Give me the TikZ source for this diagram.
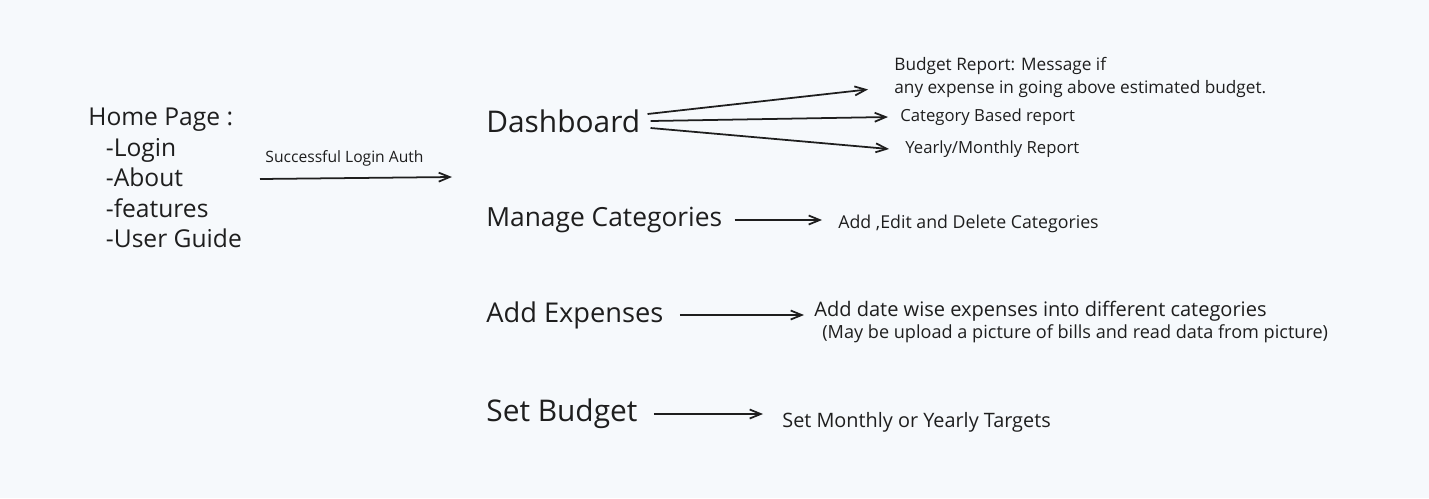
\documentclass[tikz,border=0pt]{standalone}
\usepackage{fontspec}
\setmainfont{Open Sans}
\usetikzlibrary{arrows.meta}

\definecolor{ink}{RGB}{30,30,30}
\definecolor{paper}{RGB}{246,249,252}

\begin{document}
\begin{tikzpicture}[
    x=0.02cm, y=-0.02cm,
    page/.style={anchor=west, inner sep=0pt, text=ink, font=\fontsize{15.5}{19}\selectfont},
    note/.style={anchor=west, inner sep=0pt, text=ink, font=\fontsize{11}{13}\selectfont},
    small/.style={anchor=west, inner sep=0pt, text=ink, font=\fontsize{9.5}{11}\selectfont},
    arrow/.style={-{Straight Barb[length=2.2mm, width=1.8mm]}, line width=1pt, draw=ink}
]

% Background
\fill[paper] (0,0) rectangle (1429,498);

% Home Page
\node[anchor=north west, inner sep=0pt, text=ink, align=left, font=\fontsize{14}{17.3}\selectfont] (home) at (88,108) {Home Page :\\
\hspace*{10pt}-Login\\
\hspace*{10pt}-About\\
\hspace*{10pt}-features\\
\hspace*{10pt}-User Guide};

% Login
\coordinate (auth_s) at (260,179);
\coordinate (auth_e) at (452,177);
\draw[arrow] (auth_s) -- node[pos=0.44, above=3pt, font=\fontsize{8.9}{10}\selectfont, text=ink] (auth) {Successful Login Auth} (auth_e);

% Pages
\node[page, font=\fontsize{17}{19}\selectfont] (dash) at (486,121) {Dashboard};
\node[page, font=\fontsize{15}{19}\selectfont] (cat) at (486,220) {Manage Categories};
\node[page] (exp) at (486,315) {Add Expenses};
\node[page, font=\fontsize{17}{19}\selectfont] (budget) at (486,414) {Set Budget};

% Dashboard reports
\node[note, anchor=north west, align=left, font=\fontsize{9.8}{13}\selectfont] (rep_budget) at (894,57) {Budget Report: Message if\\any expense in going above estimated budget.};
\node[small] (rep_cat) at (900,117) {Category Based report};
\node[small] (rep_year) at (905,149) {Yearly/Monthly Report};

\draw[arrow] ([shift={(7,-7)}]dash.east) -- ([shift={(-26,12)}]rep_budget.west);
\draw[arrow] ([shift={(10,0)}]dash.east) -- ([shift={(-12,0)}]rep_cat.west);
\draw[arrow] ([shift={(10,7)}]dash.east) -- ([shift={(-16,0)}]rep_year.west);

% Categories
\node[small, font=\fontsize{10.1}{12}\selectfont] (cat_txt) at (838,224) {Add ,Edit and Delete Categories};
\draw[arrow] ([shift={(12,0)}]cat.east) -- ([shift={(-16,0)}]cat.east -| cat_txt.west);

% Expenses
\node[note, font=\fontsize{11.4}{13}\selectfont] (exp_txt) at (814,311) {Add date wise expenses into different categories};
\node[note, font=\fontsize{10.3}{13}\selectfont] (exp_txt2) at (822,334) {(May be upload a picture of bills and read data from picture)};
\draw[arrow] ([shift={(16,0)}]exp.east) -- ([shift={(-10,0)}]exp.east -| exp_txt.west);

% Budget
\node[note, font=\fontsize{11.3}{13}\selectfont] (budget_txt) at (782,422) {Set Monthly or Yearly Targets};
\draw[arrow] ([shift={(16,0)}]budget.east) -- ([shift={(-19,0)}]budget.east -| budget_txt.west);

\end{tikzpicture}
\end{document}
